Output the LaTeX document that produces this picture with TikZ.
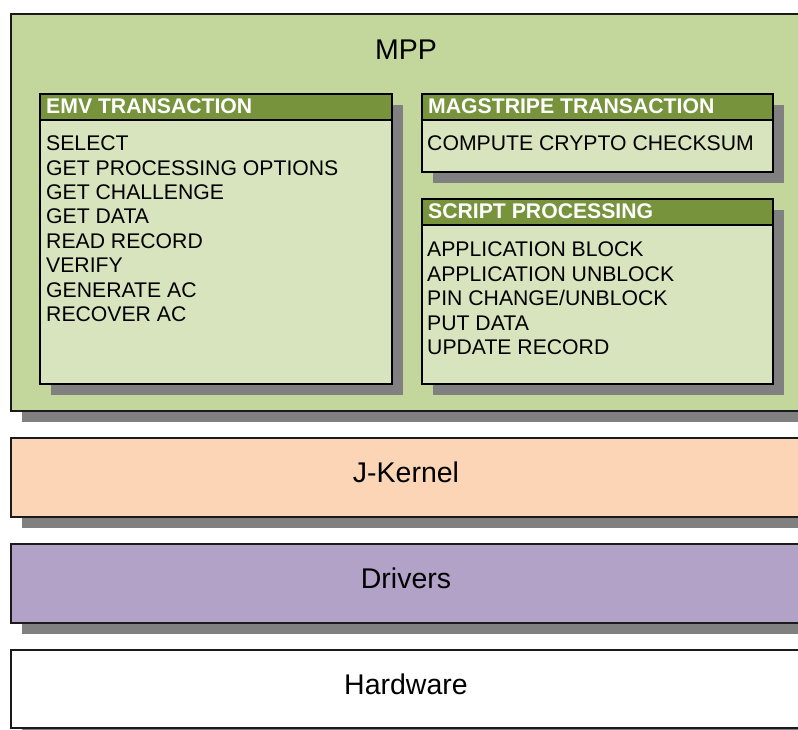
\documentclass[tikz,border=0pt]{standalone}
\usepackage{fontspec}
\setmainfont{Liberation Sans}
\usetikzlibrary{shadows}

\definecolor{mppfill}{HTML}{C3D69B}
\definecolor{cardfill}{HTML}{D7E4BD}
\definecolor{cardhead}{HTML}{77933C}
\definecolor{kernelfill}{HTML}{FBD5B5}
\definecolor{driverfill}{HTML}{B3A2C7}
\definecolor{shadowgray}{HTML}{808080}
\definecolor{edgeline}{HTML}{1A1A1A}

\tikzset{
  solidshadow/.style={drop shadow={shadow xshift=11pt, shadow yshift=-11pt, fill=shadowgray, opacity=1}},
  layer/.style={draw=edgeline, line width=1.4pt, solidshadow, anchor=north west,
    inner sep=0pt, outer sep=0pt, minimum width=800pt},
  card/.style={draw=black, line width=2pt, fill=cardfill, solidshadow, anchor=north west,
    inner sep=0pt, outer sep=0pt},
  cardbar/.style={draw=black, line width=2pt, fill=cardhead, anchor=north west,
    inner sep=0pt, outer sep=0pt, minimum height=26pt},
  bartext/.style={anchor=base west, inner sep=0pt, text=white,
    font=\fontsize{21.2}{24.4}\selectfont\bfseries},
  item/.style={anchor=base west, inner sep=0pt, font=\fontsize{21.2}{24.4}\selectfont},
  title/.style={anchor=base, inner sep=0pt, font=\fontsize{28.5}{32}\selectfont},
}

\begin{document}
\begin{tikzpicture}[x=1pt, y=-1pt]
\useasboundingbox (0,0) rectangle (798,729);

% software stack layers (they run on past the right edge)
\node[layer, fill=mppfill, minimum height=397pt] (mpp) at (11,14) {};
\node[layer, fill=kernelfill, minimum height=79pt] (kernel) at (11,438) {};
\node[layer, fill=driverfill, minimum height=79pt] (drivers) at (11,544) {};
\node[layer, fill=white, minimum height=78pt] (hardware) at (11,650) {};

\node[title] (mpp-t) at (406,59) {MPP};
\node[title] (kernel-t) at (406,482.5) {J-Kernel};
\node[title] (drivers-t) at (406,588.5) {Drivers};
\node[title] (hardware-t) at (406,694.5) {Hardware};

% EMV transaction card
\node[card, minimum width=352pt, minimum height=290pt] (emv) at (40,94) {};
\node[cardbar, minimum width=352pt] (emv-bar) at (emv.north west) {};
\node[bartext] (emv-h) at (46,113.3) {EMV TRANSACTION};
\foreach \t [count=\i] in {SELECT, GET PROCESSING OPTIONS, GET CHALLENGE, GET DATA,
    READ RECORD, VERIFY, GENERATE AC, RECOVER AC}
  \node[item] (emv-\i) at (46,{126.3+24.4*\i}) {\t};

% magstripe transaction card
\node[card, minimum width=351pt, minimum height=78pt] (mag) at (422,94) {};
\node[cardbar, minimum width=351pt] (mag-bar) at (mag.north west) {};
\node[bartext] (mag-h) at (428,113.3) {MAGSTRIPE TRANSACTION};
\node[item] (mag-1) at (427,150.7) {COMPUTE CRYPTO CHECKSUM};

% script processing card
\node[card, minimum width=351pt, minimum height=185pt] (script) at (422,199) {};
\node[cardbar, minimum width=351pt] (script-bar) at (script.north west) {};
\node[bartext] (script-h) at (428,218.3) {SCRIPT PROCESSING};
\foreach \t [count=\i] in {APPLICATION BLOCK, APPLICATION UNBLOCK, PIN CHANGE/UNBLOCK,
    PUT DATA, UPDATE RECORD}
  \node[item] (script-\i) at (427,{232.4+24.4*\i}) {\t};
\end{tikzpicture}
\end{document}
